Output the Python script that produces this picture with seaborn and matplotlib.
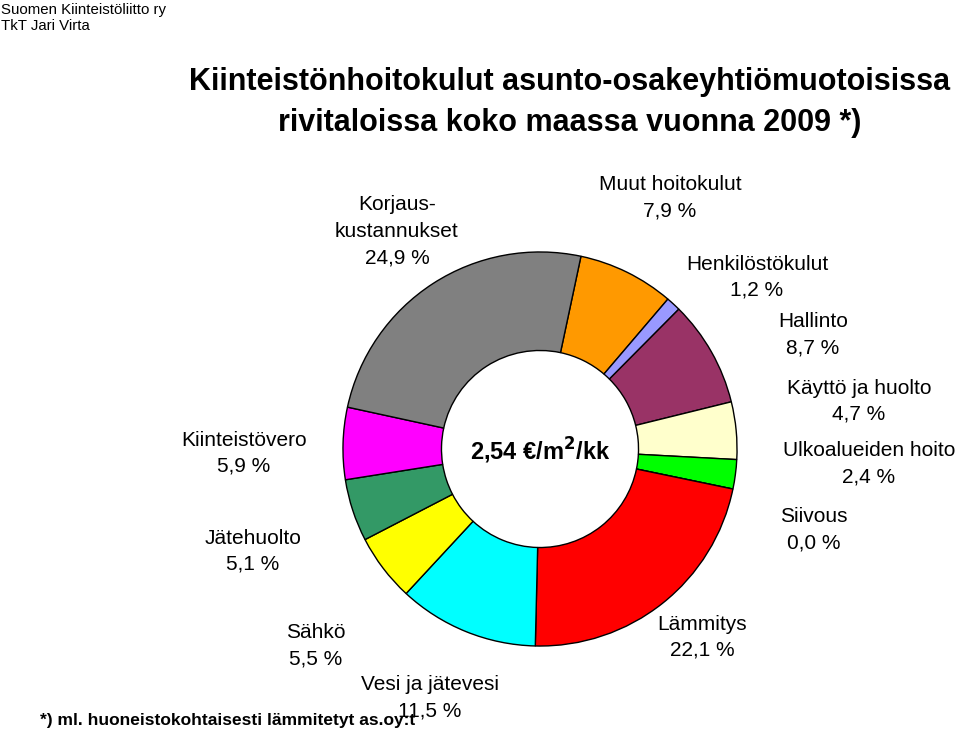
import matplotlib
matplotlib.use("Agg")
import matplotlib.pyplot as plt
import seaborn as sns

categories = ["Muut hoitokulut", "Henkilöstökulut", "Hallinto", "Käyttö ja huolto",
              "Ulkoalueiden hoito", "Siivous", "Lämmitys", "Vesi ja jätevesi",
              "Sähkö", "Jätehuolto", "Kiinteistövero", "Korjaus-\nkustannukset"]
values = [7.9, 1.2, 8.7, 4.7, 2.4, 0.0, 22.1, 11.5, 5.5, 5.1, 5.9, 24.9]
value_labels = ["7,9 %", "1,2 %", "8,7 %", "4,7 %", "2,4 %", "0,0 %", "22,1 %",
                "11,5 %", "5,5 %", "5,1 %", "5,9 %", "24,9 %"]
colors_hex = ["#FF9900", "#9999FF", "#993366", "#FFFFCC", "#00FF00", "#33CCCC",
              "#FF0000", "#00FFFF", "#FFFF00", "#339966", "#FF00FF", "#808080"]

sns.set_style("white")
plt.rcParams['font.family'] = ['Liberation Sans', 'DejaVu Sans']
plt.rcParams['text.color'] = 'black'

W, H = 960, 734
fig = plt.figure(figsize=(W / 100, H / 100), dpi=100)

cx, cy, R = 540, 449, 199
ax = fig.add_axes([(cx - R) / W, (H - cy - R) / H, 2 * R / W, 2 * R / H])
palette = sns.color_palette(colors_hex)
ax.pie(values, colors=palette, startangle=78, counterclock=False, radius=1.0,
       wedgeprops=dict(width=0.5, edgecolor="black", linewidth=1.0))
ax.set_xlim(-1.01, 1.01)
ax.set_ylim(-1.01, 1.01)
ax.axis("off")

ax.text(0, -0.01, "2,54 €/m$^{\\mathbf{2}}$/kk", ha="center", va="center",
        fontsize=17, fontweight="bold", color="black")

def ptext(x, y, s, **kw):
    fig.text(x / W, 1 - y / H, s, color="black", **kw)

# label positions (pixels, centre of first line)
label_pos = [(670, 185), (757, 264), (813, 322), (859, 388), (869, 451), (814, 517),
             (702, 624), (430, 685), (316, 633), (253, 538), (244, 440), (397, 205)]
step = 26.3
for name, vl, (x, y) in zip(categories, value_labels, label_pos):
    lines = name.split("\n") + [vl]
    for i, ln in enumerate(lines):
        ptext(x, y + i * step, ln, ha="center", va="center", fontsize=15)

ptext(570, 82, "Kiinteistönhoitokulut asunto-osakeyhtiömuotoisissa",
      ha="center", va="center", fontsize=22, fontweight="bold")
ptext(570, 123, "rivitaloissa koko maassa vuonna 2009 *)",
      ha="center", va="center", fontsize=22, fontweight="bold")
ptext(1, 10, "Suomen Kiinteistöliitto ry", ha="left", va="center", fontsize=10.8)
ptext(1, 26, "TkT Jari Virta", ha="left", va="center", fontsize=10.8)
ptext(40, 720, "*) ml. huoneistokohtaisesti lämmitetyt as.oy:t", ha="left", va="center",
      fontsize=12.5, fontweight="bold")

fig.savefig("out.png", dpi=100)
